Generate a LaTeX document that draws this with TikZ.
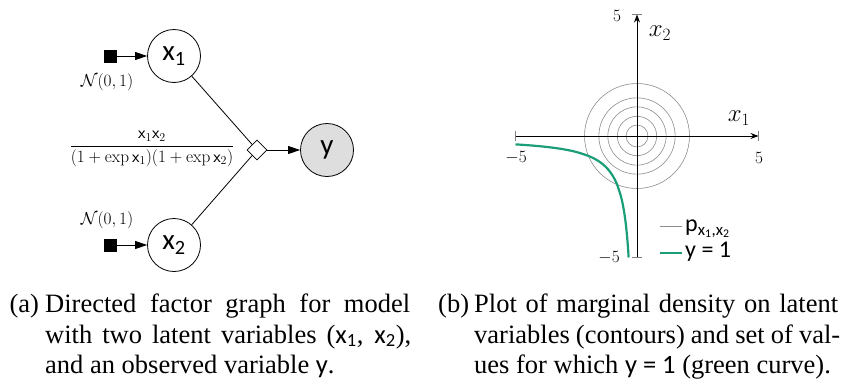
\documentclass[tikz,border=0pt]{standalone}
\usepackage[no-math]{fontspec}
\setmainfont{Liberation Serif}
\newfontfamily\labfont{Carlito}
\usetikzlibrary{arrows.meta,shapes.geometric}
\definecolor{curvegreen}{RGB}{26,158,119}
\definecolor{obsgray}{RGB}{222,222,222}
\definecolor{contourgray}{RGB}{140,140,140}
\newcommand\vx[1]{{\labfont x\textsubscript{#1}}}
\begin{document}
\begin{tikzpicture}[x=1pt,y=-1pt,
  varnode/.style={circle,draw,line width=0.8pt,minimum size=53pt,inner sep=0pt,
    font=\labfont\fontsize{29}{30}\selectfont},
  obsnode/.style={varnode,fill=obsgray},
  facnode/.style={diamond,draw,line width=0.8pt,fill=white,minimum size=20pt,inner sep=0pt},
  priornode/.style={rectangle,fill=black,minimum size=13pt,inner sep=0pt},
  edge/.style={line width=0.8pt},
  arr/.style={line width=0.8pt,-{Triangle[length=12pt,width=8pt]}},
  lbl/.style={inner sep=0pt,font=\fontsize{19}{20}\selectfont},
  capt/.style={anchor=base west,inner sep=0pt,font=\fontsize{26.5}{30}\selectfont},
  tick/.style={inner sep=0pt,font=\fontsize{16}{18}\selectfont},
  axlbl/.style={inner sep=0pt,font=\fontsize{26}{28}\selectfont},
  axis/.style={line width=0.8pt,-{Stealth[length=8pt,width=6pt]}},
  axbar/.style={line width=0.6pt,gray},
  contour/.style={line width=0.6pt,contourgray},
  legtext/.style={anchor=west,inner sep=0pt,font=\labfont\fontsize{24}{26}\selectfont},
]
\useasboundingbox (0,0) rectangle (843,386);

% ---------- (a) factor graph ----------
\node[varnode] (x1) at (174,56) {x\textsubscript{1}};
\node[varnode] (x2) at (174,245) {x\textsubscript{2}};
\node[obsnode] (y) at (327,150) {y};
\node[facnode] (f) at (257,150) {};
\node[priornode] (p1) at (110,56) {};
\node[priornode] (p2) at (110,245) {};
\node[lbl] (n1) at (107,82) {$\mathcal{N}(0,1)$};
\node[lbl] (n2) at (107,220) {$\mathcal{N}(0,1)$};
\node[inner sep=0pt,font=\fontsize{16.5}{18}\selectfont] (fr) at (152,149)
  {$\displaystyle\frac{\mathsf{x}_1\mathsf{x}_2}{(1+\exp\mathsf{x}_1)(1+\exp\mathsf{x}_2)}$};
\draw[arr] (p1) -- (x1);
\draw[arr] (p2) -- (x2);
\draw[edge] (x1) -- (f);
\draw[edge] (x2) -- (f);
\draw[arr] (f) -- (y);

% ---------- (b) plot ----------
\begin{scope}[shift={(637,136)},x=24.3pt,y=24.3pt]
  \foreach \r in {0.45,0.81,1.2,1.57,2.16} \draw[contour] (0,0) circle[radius=\r];
  \draw[axis] (-5,0) -- (5,0);
  \draw[axis] (0,-5) -- (0,5);
  \draw[axbar] (-5,-0.2) -- (-5,0.2);
  \draw[axbar] (5,-0.2) -- (5,0.2);
  \draw[axbar] (-0.2,5) -- (0.2,5);
  \draw[axbar] (-0.2,-5) -- (0.2,-5);
  \draw[curvegreen,line width=2.2pt] plot[smooth,tension=0.6] coordinates {
    (-5,-0.344) (-4.5,-0.378) (-4,-0.421) (-3.5,-0.476) (-3,-0.551) (-2.5,-0.657)
    (-2,-0.818) (-1.8,-0.908) (-1.6,-1.021) (-1.4,-1.167) (-1.278,-1.278)
    (-1.167,-1.4) (-1.021,-1.6) (-0.908,-1.8) (-0.818,-2) (-0.657,-2.5)
    (-0.551,-3) (-0.476,-3.5) (-0.421,-4) (-0.378,-4.5) (-0.344,-5)};
\end{scope}
\node[tick] (t5u) at (617,16) {$5$};
\node[tick] (t5d) at (609,258) {$-5$};
\node[tick] (t5l) at (516,158) {$-5$};
\node[tick] (t5r) at (759,158) {$5$};
\node[axlbl] (lx2) at (660,33) {$x_2$};
\node[axlbl] (lx1) at (739,118) {$x_1$};
% legend
\coordinate (lg1a) at (660,226); \coordinate (lg1b) at (682,226);
\coordinate (lg2a) at (660,253); \coordinate (lg2b) at (682,253);
\draw[contour] (lg1a) -- (lg1b);
\draw[curvegreen,line width=2.2pt] (lg2a) -- (lg2b);
\node[legtext] (lt1) at (685,229) {p\textsubscript{x\textsubscript{1},x\textsubscript{2}}};
\node[legtext] (lt2) at (685,252) {y = 1};

% ---------- captions ----------
\node[capt] (ca) at (9.3,312) {(a)};
\node[capt] (ca1) at (45,312) {\makebox[365pt][s]{Directed factor graph for model}};
\node[capt] (ca2) at (45,343) {\makebox[366pt][s]{with two latent variables (\vx{1}, \vx{2}),}};
\node[capt] (ca3) at (45,373) {and an observed variable {\labfont y}.};
\node[capt] (cb) at (438,312) {(b)};
\node[capt] (cb1) at (474,312) {\makebox[364pt][s]{Plot of marginal density on latent}};
\node[capt] (cb2) at (474,343) {\makebox[366pt][s]{variables (contours) and set of val-}};
\node[capt] (cb3) at (474,373) {ues for which {\labfont y = 1} (green curve).};
\end{tikzpicture}
\end{document}
